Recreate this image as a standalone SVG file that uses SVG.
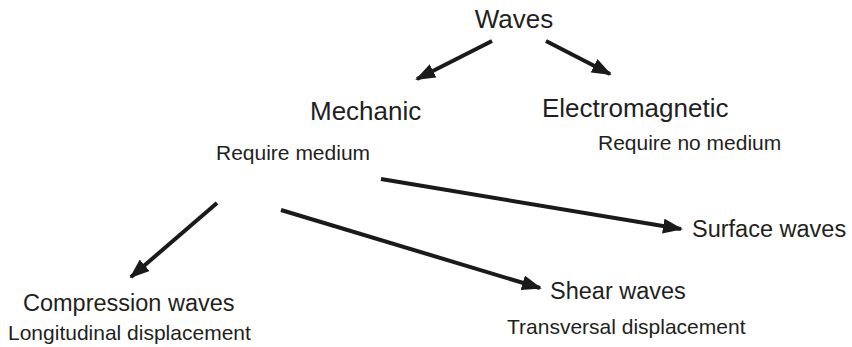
<svg xmlns="http://www.w3.org/2000/svg" width="852" height="347" viewBox="0 0 852 347">
<style>
text{font-family:"Liberation Sans",Arial,Helvetica,sans-serif;fill:#231f20}
.t1{font-size:26px}
.t2{font-size:23.5px}
.t3{font-size:21px}
.c line{stroke:#1a1a1a;stroke-width:4;fill:none}
</style>
<defs>
<marker id="ah" markerUnits="userSpaceOnUse" markerWidth="20" markerHeight="15" refX="18" refY="7.5" orient="auto" viewBox="0 0 20 15">
<path d="M0,0 L20,7.5 L0,15 z" fill="#1a1a1a"/>
</marker>
</defs>
<rect width="852" height="347" fill="#fff"/>
<g id="connectors" class="c">
<line x1="492" y1="41" x2="417" y2="79" marker-end="url(#ah)"/>
<line x1="546" y1="41" x2="610" y2="74" marker-end="url(#ah)"/>
<line x1="381" y1="179" x2="681" y2="229" marker-end="url(#ah)"/>
<line x1="217" y1="203" x2="131" y2="277" marker-end="url(#ah)"/>
<line x1="281" y1="210" x2="540" y2="288" marker-end="url(#ah)"/>
</g>
<g id="waves"><text class="t1" x="514" y="28" text-anchor="middle">Waves</text></g>
<g id="mechanic"><text class="t1" x="310" y="120">Mechanic</text><text class="t3" x="216" y="160">Require medium</text></g>
<g id="electromagnetic"><text class="t1" x="542" y="117">Electromagnetic</text><text class="t3" x="598" y="150">Require no medium</text></g>
<g id="surface"><text class="t2" x="692" y="237">Surface waves</text></g>
<g id="compression"><text class="t2" x="23" y="311">Compression waves</text><text class="t3" x="8" y="340">Longitudinal displacement</text></g>
<g id="shear"><text class="t2" x="550" y="299">Shear waves</text><text class="t3" x="507" y="334">Transversal displacement</text></g>
</svg>
